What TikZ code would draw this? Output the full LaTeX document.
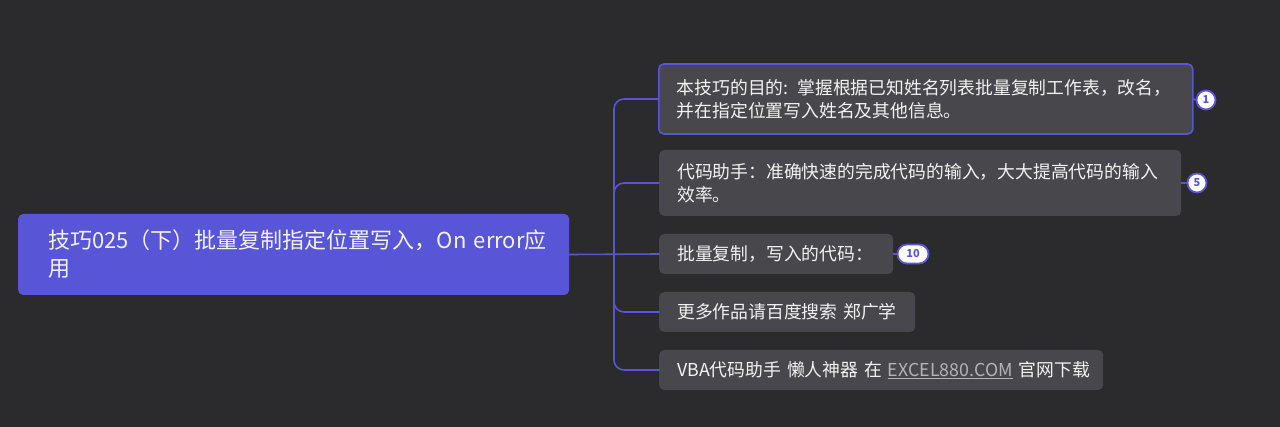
\documentclass[tikz,border=0pt]{standalone}
\usepackage{fontspec}
\setmainfont{Noto Sans CJK SC}
\hfuzz=\maxdimen
\hbadness=10000
\definecolor{bgcol}{HTML}{2B2B2D}
\definecolor{mainblue}{HTML}{5856D6}
\definecolor{subgray}{HTML}{48474C}
\definecolor{txtcol}{HTML}{F2F2F2}
\definecolor{linkgray}{HTML}{B4B4B8}
\begin{document}
\begin{tikzpicture}[
  x=1pt, y=-1pt,
  line cap=round,
  line join=round,
  roottopic/.style={fill=mainblue, rounded corners=5pt, anchor=west,
    text=txtcol, font=\fontsize{22}{28}\selectfont, align=left,
    inner xsep=30pt, inner ysep=0pt, minimum height=81pt},
  subtopic/.style={fill=subgray, rounded corners=5pt, anchor=west,
    text=txtcol, font=\fontsize{17.8}{23}\selectfont, align=left,
    inner xsep=18pt, inner ysep=0pt},
  branch/.style={draw=mainblue, line width=1.6pt, rounded corners=10pt},
  badge/.style={draw=mainblue, line width=1.8pt, fill=white, text=mainblue,
    font=\fontsize{11}{11}\selectfont\bfseries, inner sep=0pt,
    rounded corners=9.5pt, minimum height=19pt, minimum width=19pt}
]
  \useasboundingbox[fill=bgcol] (0,0) rectangle (1280,427);

  \coordinate (T) at (614,254);

  % central topic
  \node[roottopic, text width=491pt] (R) at (18,254.5)
    {\mbox{技巧025（下）批量复制指定位置写入，On error应}\\用};

  % subtopics
  \node[subtopic, text width=498pt, minimum height=70pt,
    draw=mainblue, line width=1.6pt] (S1) at (658,99)
    {\mbox{本技巧的目的: 掌握根据已知姓名列表批量复制工作表，改名，}\\并在指定位置写入姓名及其他信息。};
  \node[subtopic, text width=486pt, minimum height=66pt] (S2) at (659,183)
    {代码助手：准确快速的完成代码的输入，大大提高代码的输入\\效率。};
  \node[subtopic, text width=198pt, minimum height=40pt] (S3) at (659,254)
    {批量复制，写入的代码：};
  \node[subtopic, text width=220pt, minimum height=40pt] (S4) at (659,312)
    {\mbox{更多作品请百度搜索 郑广学}};
  \node[subtopic, text width=408pt, minimum height=40pt] (S5) at (659,370)
    {\mbox{VBA代码助手 懒人神器 在 \textcolor{linkgray}{\underline{EXCEL880.COM}} 官网下载}};

  % branches
  \draw[branch] (R.east) -- (S3.west);
  \draw[branch] (T) |- (S1.west);
  \draw[branch] (T) |- (S2.west);
  \draw[branch] (T) |- (S4.west);
  \draw[branch] (T) |- (S5.west);

  % markers
  \node[badge] (B1) at (1206,100) {1};
  \node[badge] (B2) at (1197,183) {5};
  \node[badge, minimum width=31pt] (B3) at (913,254) {10};
  \draw[mainblue, line width=1.6pt] (S1.east) -- (B1.west);
  \draw[mainblue, line width=1.6pt] (S2.east) -- (B2.west);
  \draw[mainblue, line width=1.6pt] (S3.east) -- (B3.west);
\end{tikzpicture}
\end{document}
